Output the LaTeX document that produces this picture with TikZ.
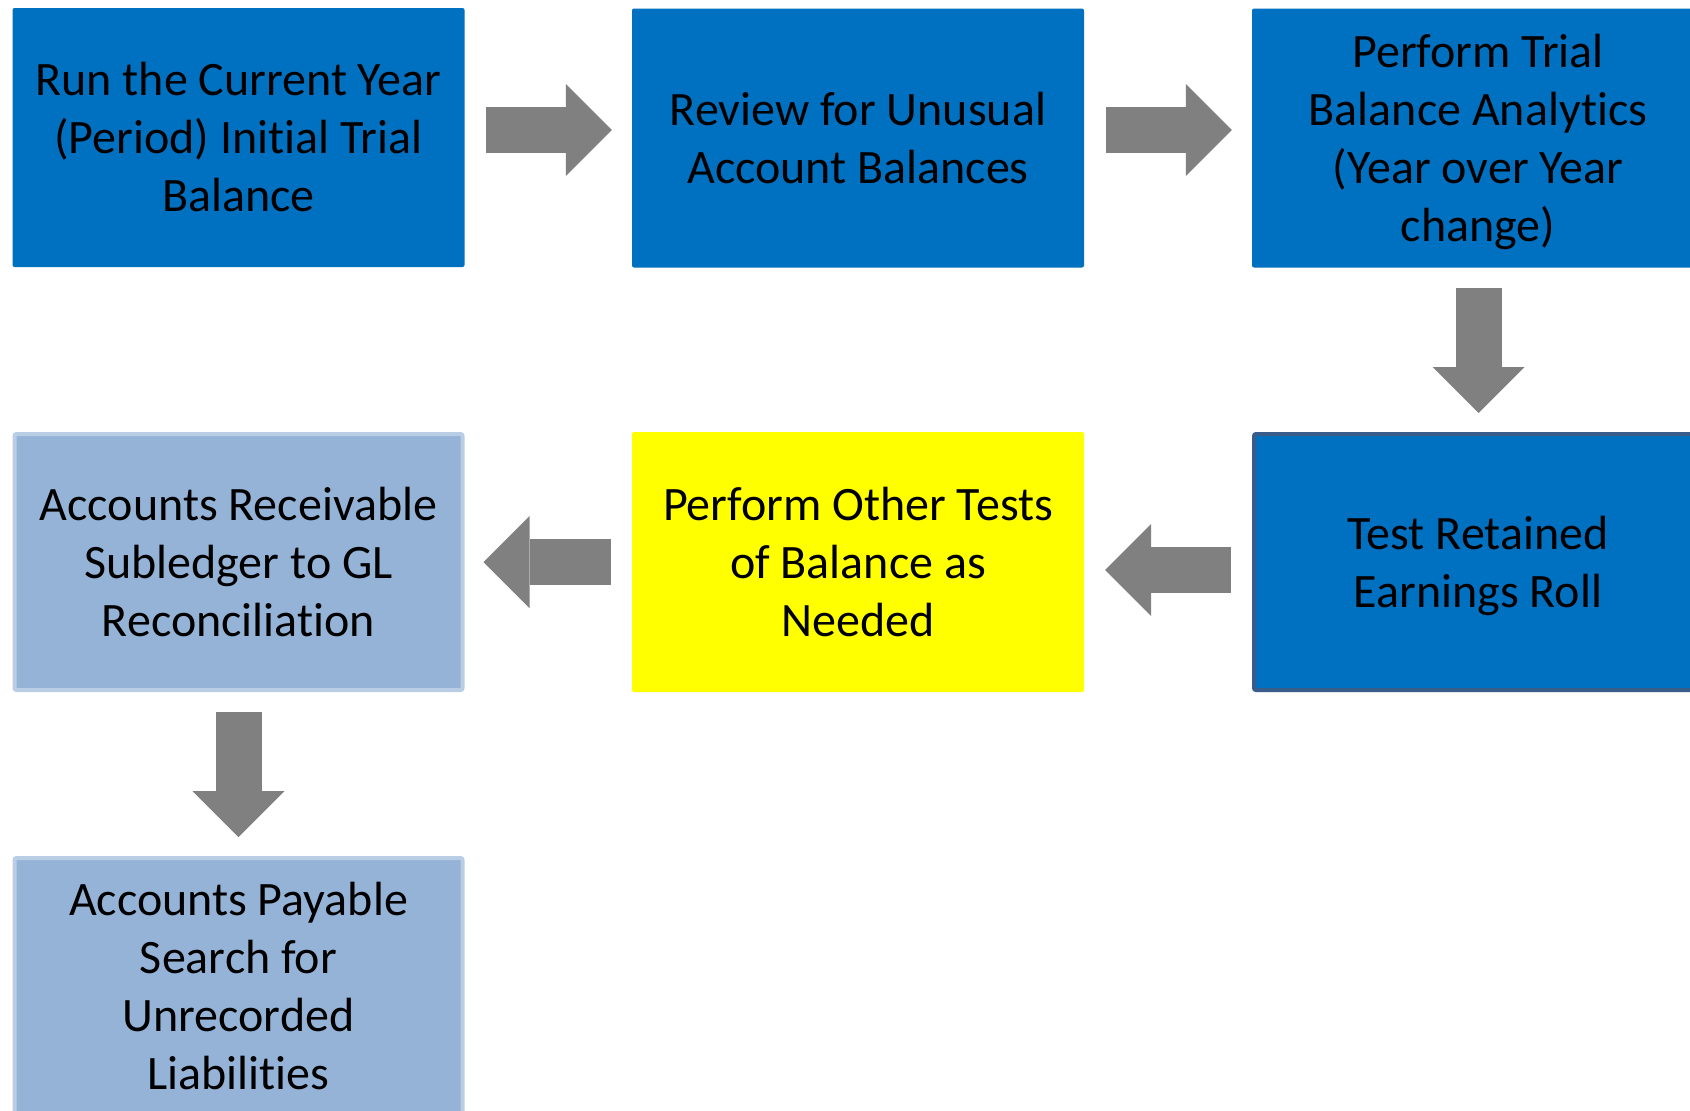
\documentclass[tikz,border=0pt]{standalone}
\usepackage{fontspec}
\setmainfont{Carlito}[Ligatures=NoCommon]
\usetikzlibrary{arrows.meta,calc}
\definecolor{stepblue}{HTML}{0070C0}
\definecolor{edgeblue}{HTML}{385D8A}
\definecolor{paleblue}{HTML}{95B3D7}
\definecolor{paleedge}{HTML}{B9CDE5}
\definecolor{flowgray}{HTML}{808080}
\definecolor{hilite}{HTML}{FFFF00}

\begin{document}
\begin{tikzpicture}[x=1pt,y=-1pt,
  box/.style={rectangle, rounded corners=2pt, inner sep=0pt, align=center,
    font=\fontsize{48}{58}\selectfont, text=black},
  solidbox/.style={box, fill=#1, minimum width=452pt, minimum height=259pt},
  edgebox/.style 2 args={box, fill=#1, draw=#2, line width=4pt,
    minimum width=448pt, minimum height=256pt},
  flow/.style={draw=flowgray, line width=46pt,
    -{Triangle[length=46pt,width=92pt,line width=0pt]}}
]
\useasboundingbox (0,0) rectangle (1690,1111);
\fill[white] (0,0) rectangle (1690,1111);
\clip (0,0) rectangle (1690,1111);

% top row
\node[solidbox=stepblue] (b1) at (238.5,137.5) {Run the Current Year\\(Period) Initial Trial\\Balance};
\node[solidbox=stepblue] (b2) at (858,138) {Review for Unusual\\Account Balances};
\node[solidbox=stepblue] (b3) at (1478,138) {Perform Trial\\Balance Analytics\\(Year over Year\\\smash{change)}};

% middle row
\node[edgebox={paleblue}{paleedge}] (b4) at (238.5,562) {Accounts Receivable\\Subledger to GL\\Reconciliation};
\node[solidbox=hilite, minimum height=260pt] (b5) at (858,562) {Perform Other Tests\\of Balance as\\Needed};
\node[edgebox={stepblue}{edgeblue}] (b6) at (1478,562) {Test Retained\\\smash{Earnings Roll}};

% bottom row
\node[edgebox={paleblue}{paleedge}] (b7) at (238.5,986) {Accounts Payable\\Search for\\Unrecorded\\Liabilities};

% block arrows between the steps
\draw[flow] ($(b1.east)+(21,-7.5)$) -- ($(b2.west)+(-20,-8)$);
\draw[flow] ($(b2.east)+(22,-8)$) -- ($(b3.west)+(-20,-8)$);
\draw[flow] ($(b3.south)+(0.5,20)$) -- ($(b6.north)+(0.5,-19)$);
\draw[flow] ($(b6.west)+(-21,8)$) -- ($(b5.east)+(21,8)$);
\draw[flow] ($(b5.west)+(-21,0)$) -- ($(b4.east)+(19,0)$);
\draw[flow] ($(b4.south)+(0,20)$) -- ($(b7.north)+(0,-19)$);
\end{tikzpicture}
\end{document}
